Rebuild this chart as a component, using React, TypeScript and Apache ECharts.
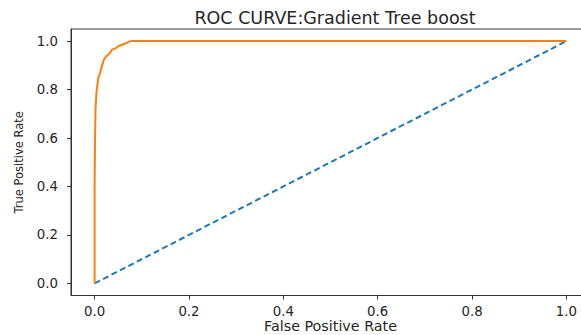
import React, { useEffect, useRef } from "react";
import * as echarts from "echarts";

const rocFpr = [0, 0, 0.001, 0.002, 0.004, 0.006, 0.008, 0.012, 0.016, 0.02, 0.026, 0.032, 0.037, 0.044, 0.051, 0.058, 0.065, 0.072, 0.078, 1.0];
const rocTpr = [0, 0.4, 0.6, 0.72, 0.79, 0.82, 0.85, 0.87, 0.9, 0.925, 0.94, 0.95, 0.965, 0.97, 0.98, 0.985, 0.99, 0.997, 1.0, 1.0];
const diagX = [0, 1];
const diagY = [0, 1];
const tickValues = [0, 0.2, 0.4, 0.6, 0.8, 1.0];

const titleText = "ROC CURVE:Gradient Tree boost";
const xName = "False Positive Rate";
const yName = "True Positive Rate";

function makeAxis(margin: number) {
  return {
    type: "value" as const,
    min: -0.05,
    max: 1.05,
    splitLine: { show: false },
    axisLine: { show: true, onZero: false, lineStyle: { color: "#333", width: 1 } },
    axisTick: {
      show: true,
      length: 4,
      inside: false,
      lineStyle: { color: "#333", width: 1 },
      customValues: tickValues.slice(),
    },
    axisLabel: {
      customValues: tickValues.slice(),
      formatter: (v: number) => v.toFixed(1),
      color: "#262626",
      fontFamily: "DejaVu Sans",
      fontSize: 13.3,
      margin,
    },
  };
}

export default function App() {
  const ref = useRef<HTMLDivElement>(null);
  useEffect(() => {
    if (!ref.current) return;
    const chart = echarts.init(ref.current, null, { renderer: "svg" });
    const font = "DejaVu Sans";
    const textColor = "#262626";
    chart.setOption({
      animation: false,
      backgroundColor: "#fff",
      title: {
        text: titleText,
        left: 330,
        top: 4,
        textAlign: "center",
        textStyle: { fontFamily: font, fontSize: 17.5, fontWeight: "normal", color: textColor },
      },
      grid: {
        left: 71,
        top: 29,
        width: 519,
        height: 266.5,
        show: true,
        borderColor: "#333",
        borderWidth: 1,
        backgroundColor: "transparent",
        containLabel: false,
        outerBoundsMode: "none",
      },
      xAxis: {
        ...makeAxis(9),
        name: xName,
        nameLocation: "middle",
        nameGap: 23,
        nameMoveOverlap: false,
        nameTextStyle: { fontFamily: font, fontSize: 14.3, lineHeight: 15, color: textColor },
      },
      yAxis: {
        ...makeAxis(13),
        name: yName,
        nameLocation: "middle",
        nameGap: 46,
        nameRotate: 90,
        nameMoveOverlap: false,
        nameTextStyle: { fontFamily: "DejaVu Sans Condensed", fontSize: 12.8, color: textColor },
      },
      series: [
        {
          type: "line",
          data: diagX.map((x, i) => [x, diagY[i]]),
          showSymbol: false,
          lineStyle: { color: "#1f77b4", width: 2, type: [6, 3.5] },
          z: 2,
        },
        {
          type: "line",
          data: rocFpr.map((x, i) => [x, rocTpr[i]]),
          showSymbol: false,
          lineStyle: { color: "#ff7f0e", width: 2 },
          z: 3,
        },
      ],
    });
    return () => chart.dispose();
  }, []);
  return (
    <div
      ref={ref}
      style={{ position: "fixed", left: 0, top: 0, width: 581, height: 335, background: "#fff" }}
    />
  );
}
